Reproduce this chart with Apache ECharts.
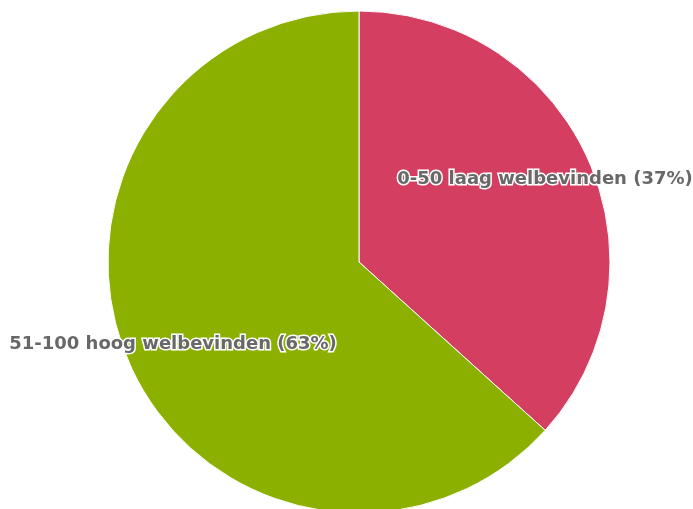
<!DOCTYPE html>
<html><head><meta charset="utf-8">
<script src="https://cdn.jsdelivr.net/npm/echarts@6/dist/echarts.min.js"></script>
<style>html,body{margin:0;padding:0;background:#fff}#c{width:693px;height:509px}</style>
</head><body><div id="c"></div>
<script>
var categories = ['0-50 laag welbevinden', '51-100 hoog welbevinden'];
var values = [36.7, 63.3];
var colors = ['#d43f61', '#8cb000'];

var data = categories.map(function(c, i){ return {name: c, value: values[i], itemStyle:{color: colors[i]}}; });
var chart = echarts.init(document.getElementById('c'));
chart.setOption({
  animation: false,
  series: [{
    type: 'pie',
    center: [359, 262],
    radius: [0, 251],
    startAngle: 90,
    clockwise: true,
    data: data,
    itemStyle: {borderColor: '#fff', borderWidth: 1},
    label: {show: false},
    labelLine: {show: false},
    silent: true
  }, {
    type: 'pie',
    center: [359, 262],
    radius: [150, 251],
    startAngle: 90,
    clockwise: true,
    data: data.map(function(d){ return {name: d.name, value: d.value, itemStyle:{color:'rgba(0,0,0,0)'}}; }),
    itemStyle: {borderWidth: 0},
    silent: true,
    label: {
      show: true, position: 'inside',
      formatter: function(p){ return p.name + ' (' + Math.round(p.percent) + '%)'; },
      color: '#686868', fontFamily: 'DejaVu Sans', fontWeight: 'bold', fontSize: 18,
      textBorderColor: '#ffffff', textBorderWidth: 3
    },
    labelLine: {show: false}
  }]
});
</script></body></html>
